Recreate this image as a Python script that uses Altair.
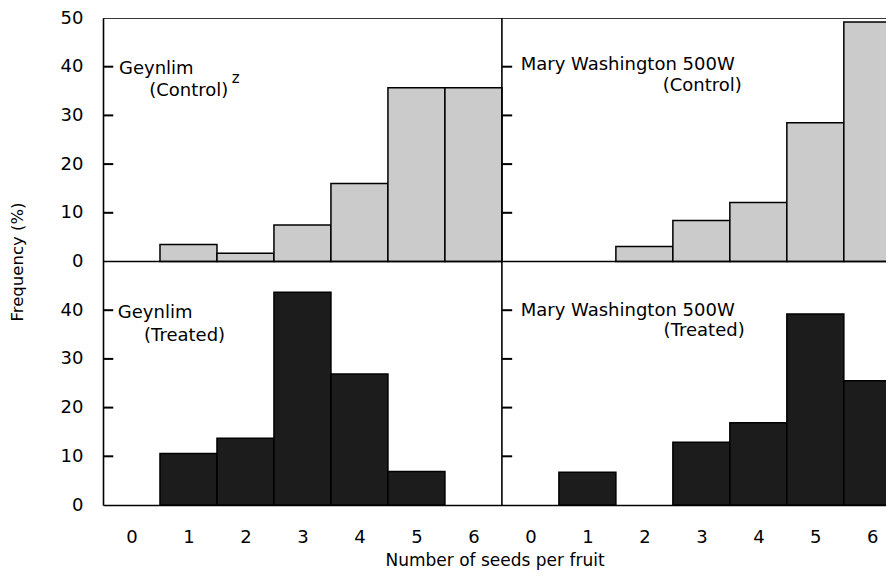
import altair as alt
import pandas as pd

# ---- data ----
bins = [0, 1, 2, 3, 4, 5, 6]
geynlim_control = [0, 3.5, 1.7, 7.5, 16.0, 35.7, 35.7]
mw_control = [0, 0, 3.1, 8.4, 12.1, 28.5, 49.2]
geynlim_treated = [0, 10.6, 13.7, 43.7, 26.9, 6.9, 0]
mw_treated = [0, 6.7, 0, 12.9, 16.9, 39.2, 25.5]

x_tick_labels = [0, 1, 2, 3, 4, 5, 6]
y_tick_values = [0, 10, 20, 30, 40]

# panel layout: (values, column, row, treatment)
panels = [
    (geynlim_control, 0, "top", "Control"),
    (mw_control, 1, "top", "Control"),
    (geynlim_treated, 0, "bottom", "Treated"),
    (mw_treated, 1, "bottom", "Treated"),
]
COL_SHIFT = 7      # each panel spans 7 bins (-0.5 .. 6.5)
ROW_SHIFT = 50     # each panel spans 0..50 %

rows = []
for vals, col, row, trt in panels:
    base = ROW_SHIFT if row == "top" else 0
    for b, v in zip(bins, vals):
        if v <= 0:
            continue
        rows.append({
            "x0": b - 0.5 + col * COL_SHIFT,
            "x1": b + 0.5 + col * COL_SHIFT,
            "y0": base,
            "y1": base + v,
            "treatment": trt,
            "value": v,
        })
bars_df = pd.DataFrame(rows)

X_MAX = 13.24
FONT = "DejaVu Sans"

# frame lines
frame_df = pd.DataFrame([
    {"x0": -0.5, "x1": X_MAX, "y0": 100, "y1": 100},
    {"x0": -0.5, "x1": X_MAX, "y0": 50, "y1": 50},
    {"x0": 6.5, "x1": 6.5, "y0": 0, "y1": 100},
])

# inward tick marks on the left side of every panel
tick_rows = []
for col in [0, 1]:
    for base in [0, ROW_SHIFT]:
        for t in y_tick_values[1:]:
            xs = -0.5 + col * COL_SHIFT
            tick_rows.append({"x0": xs, "x1": xs + 0.18, "y0": base + t, "y1": base + t})
ticks_df = pd.DataFrame(tick_rows)

# panel annotations
ann_text = ["Geynlim", "(Control)", "Mary Washington 500W", "(Control)",
            "Geynlim", "(Treated)", "Mary Washington 500W", "(Treated)"]
ann_x = [-0.22, 0.31, 6.83, 10.71, -0.24, 0.22, 6.83, 10.76]
ann_y = [88.6, 84.0, 89.3, 85.0, 38.5, 33.6, 38.85, 34.8]
ann_align = ["left", "left", "left", "right", "left", "left", "left", "right"]
ann_df = pd.DataFrame({"text": ann_text, "x": ann_x, "y": ann_y, "align": ann_align})

sup_df = pd.DataFrame({"text": ["z"], "x": [1.76], "y": [86.6]})

xs = alt.Scale(domain=[-0.5, X_MAX], nice=False, zero=False)
ys = alt.Scale(domain=[0, 100], nice=False, zero=False)

x_axis = alt.Axis(
    values=[b + c * COL_SHIFT for c in [0, 1] for b in x_tick_labels],
    labelExpr="format(datum.value % 7, 'd')",
    title="Number of seeds per fruit",
    titleFont=FONT, titleFontSize=17, titleFontWeight="normal", titleColor="black",
    titleY=55, titleBaseline="middle",
    labelFont=FONT, labelFontSize=18, labelColor="black", labelPadding=23,
    ticks=False, grid=False, domain=True, domainColor="black", domainWidth=1.6,
)
y_axis = alt.Axis(
    values=[v + r for r in [0, ROW_SHIFT] for v in y_tick_values] + [100],
    labelExpr="datum.value >= 50 ? format(datum.value - 50, 'd') : format(datum.value, 'd')",
    title="Frequency  (%)",
    titleFont=FONT, titleFontSize=16.5, titleFontWeight="normal", titleColor="black",
    titleX=-86, titleY=243.5, titleAngle=-90, titleAlign="center", titleBaseline="middle",
    labelFont=FONT, labelFontSize=18, labelColor="black", labelPadding=20,
    ticks=False, grid=False, domain=True, domainColor="black", domainWidth=1.6,
)

bars = alt.Chart(bars_df).mark_rect(stroke="black", strokeWidth=1.5, clip=True).encode(
    x=alt.X("x0:Q", scale=xs, axis=x_axis),
    x2="x1",
    y=alt.Y("y0:Q", scale=ys, axis=y_axis),
    y2="y1",
    fill=alt.Fill("treatment:N",
                  scale=alt.Scale(domain=["Control", "Treated"], range=["#cbcbcb", "#1c1c1c"]),
                  legend=None),
)

frame = alt.Chart(frame_df).mark_rule(color="black", strokeWidth=1.6, clip=True).encode(
    x=alt.X("x0:Q", scale=xs), x2="x1",
    y=alt.Y("y0:Q", scale=ys), y2="y1",
)

ticks = alt.Chart(ticks_df).mark_rule(color="black", strokeWidth=2).encode(
    x=alt.X("x0:Q", scale=xs), x2="x1",
    y=alt.Y("y0:Q", scale=ys), y2="y1",
)

ann_left = alt.Chart(ann_df[ann_df["align"] == "left"]).mark_text(
    font=FONT, fontSize=18, color="black", align="left", baseline="alphabetic"
).encode(x=alt.X("x:Q", scale=xs), y=alt.Y("y:Q", scale=ys), text="text:N")

ann_right = alt.Chart(ann_df[ann_df["align"] == "right"]).mark_text(
    font=FONT, fontSize=18, color="black", align="right", baseline="alphabetic"
).encode(x=alt.X("x:Q", scale=xs), y=alt.Y("y:Q", scale=ys), text="text:N")

sup = alt.Chart(sup_df).mark_text(
    font=FONT, fontSize=15, color="black", align="left", baseline="alphabetic"
).encode(x=alt.X("x:Q", scale=xs), y=alt.Y("y:Q", scale=ys), text="text:N")

chart = alt.layer(bars, frame, ticks, ann_left, ann_right, sup).properties(
    width=783, height=487,
    autosize=alt.AutoSizeParams(type="none"),
    padding={"left": 95, "top": 10, "right": 0, "bottom": 66},
).configure_view(stroke=None).configure(background="white")

chart.save("out.html", embed_options={"renderer": "svg", "actions": False})
